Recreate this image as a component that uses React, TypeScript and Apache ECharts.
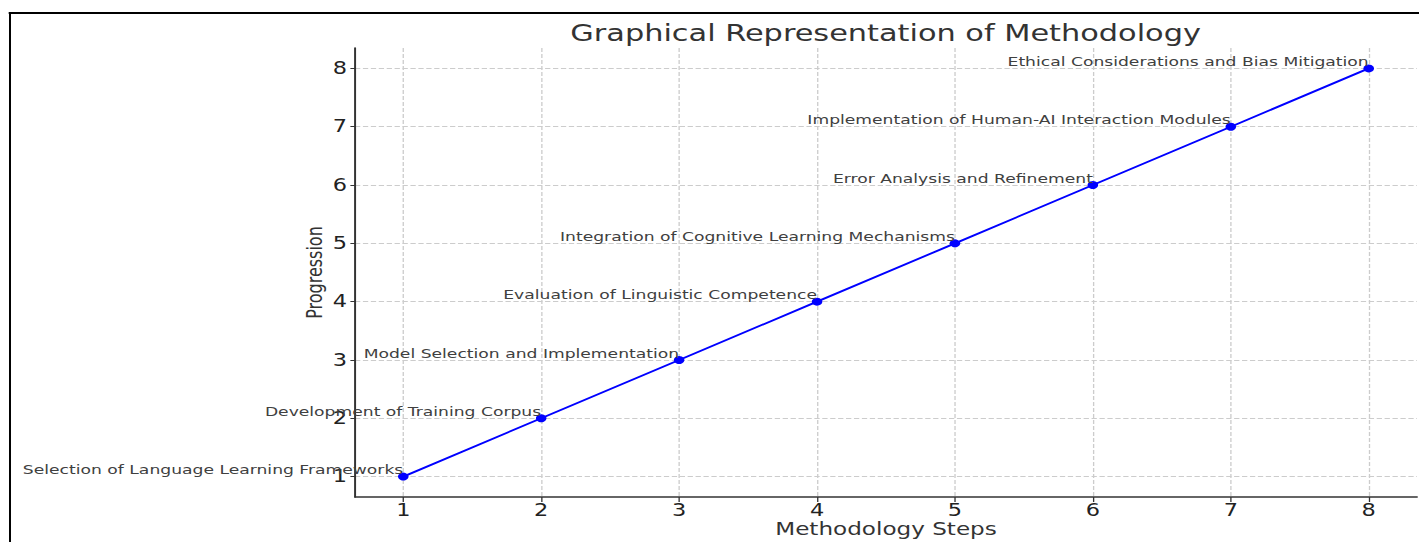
import React, { useEffect, useRef } from "react";
import * as echarts from "echarts";

const steps = [1, 2, 3, 4, 5, 6, 7, 8];
const progression = [1, 2, 3, 4, 5, 6, 7, 8];
const stepNames = [
  "Selection of Language Learning Frameworks",
  "Development of Training Corpus",
  "Model Selection and Implementation",
  "Evaluation of Linguistic Competence",
  "Integration of Cognitive Learning Mechanisms",
  "Error Analysis and Refinement",
  "Implementation of Human-AI Interaction Modules",
  "Ethical Considerations and Bias Mitigation",
];
const tickValues = [1, 2, 3, 4, 5, 6, 7, 8];

const FONT = "DejaVu Sans";
// The reference figure is stretched horizontally; reproduce that stretch.
const SX = 1.32;
const W = 1419 / SX;
const H = 542;

export default function App() {
  const ref = useRef<HTMLDivElement>(null);
  useEffect(() => {
    if (!ref.current) return;
    const chart = echarts.init(ref.current, undefined, { renderer: "svg" });
    const data = steps.map((s, i) => ({ value: [s, progression[i]], name: stepNames[i] }));
    chart.setOption({
      animation: false,
      backgroundColor: "#ffffff",
      title: {
        text: "Graphical Representation of Methodology",
        left: 879 / SX,
        textAlign: "center",
        top: 16,
        textStyle: { fontFamily: FONT, fontSize: 23, fontWeight: "normal", color: "#333333" },
      },
      graphic: [
        {
          type: "line",
          shape: { x1: 10 / SX, y1: 12, x2: 10 / SX, y2: 560 },
          style: { stroke: "#000000", lineWidth: 1.5 },
          silent: true,
        },
        {
          type: "line",
          shape: { x1: 10 / SX - 1, y1: 13, x2: W + 10, y2: 13 },
          style: { stroke: "#000000", lineWidth: 2 },
          silent: true,
        },
      ],
      grid: { left: 355 / SX, right: 2 / SX, top: 48, bottom: 45, containLabel: false, outerBoundsMode: "none" },
      xAxis: {
        type: "value",
        min: 0.65,
        max: 8.35,
        name: "Methodology Steps",
        nameLocation: "middle",
        nameGap: 23,
        nameMoveOverlap: false,
        nameTextStyle: { fontFamily: FONT, fontSize: 17.5, color: "#333333" },
        axisLine: { show: true, lineStyle: { color: "#333333", width: 1.5 } },
        axisTick: { show: true, customValues: tickValues, length: 5, lineStyle: { color: "#333333" } },
        axisLabel: { customValues: tickValues, fontFamily: FONT, fontSize: 17, color: "#222222", margin: 5 },
        splitLine: { show: true, lineStyle: { color: "#cccccc", type: "dashed", width: 1 } },
      },
      yAxis: {
        type: "value",
        min: 0.65,
        max: 8.35,
        name: "Progression",
        nameLocation: "middle",
        nameGap: 22.7,
        nameMoveOverlap: false,
        nameTextStyle: { fontFamily: FONT, fontSize: 16, color: "#333333" },
        axisLine: { show: true, lineStyle: { color: "#333333", width: 1.5 } },
        axisTick: { show: true, customValues: tickValues, length: 3.5, lineStyle: { color: "#333333" } },
        axisLabel: { customValues: tickValues, fontFamily: FONT, fontSize: 17, color: "#222222", margin: 6 },
        splitLine: { show: true, lineStyle: { color: "#cccccc", type: "dashed", width: 1 } },
      },
      series: [
        {
          type: "line",
          data,
          symbol: "circle",
          symbolSize: 8,
          lineStyle: { color: "#0000ff", width: 1.8 },
          itemStyle: { color: "#0000ff" },
          label: {
            show: true,
            position: [4, 4],
            offset: [0, 0],
            align: "right",
            verticalAlign: "bottom",
            formatter: (p: any) => p.name,
            fontFamily: FONT,
            fontSize: 13,
            color: "#404040",
          },
        },
      ],
    });
    return () => chart.dispose();
  }, []);
  return (
    <div style={{ position: "fixed", left: 0, top: 0, width: 1419, height: H, overflow: "hidden", background: "#fff" }}>
      <div
        ref={ref}
        style={{
          position: "absolute",
          left: 0,
          top: 0,
          width: W,
          height: H,
          transform: `scaleX(${SX})`,
          transformOrigin: "0 0",
        }}
      />
    </div>
  );
}
